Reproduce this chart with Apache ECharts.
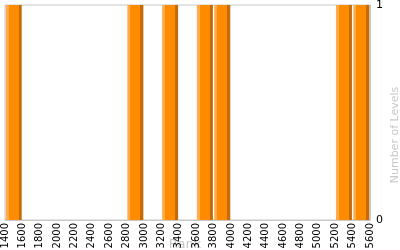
<!DOCTYPE html>
<html>
<head>
<meta charset="utf-8">
<script src="https://cdn.jsdelivr.net/npm/echarts@6/dist/echarts.min.js"></script>
<style>html,body{margin:0;padding:0;background:#fff}#c{width:400px;height:250px}</style>
</head>
<body>
<div id="c"></div>
<script>
var ranks = [1500, 2900, 3300, 3700, 3900, 5300, 5500];
var levels = [1, 1, 1, 1, 1, 1, 1];
var xTicks = {min: 1400, max: 5600, step: 200};
var yTicks = {min: 0, max: 1, step: 1};

var chart = echarts.init(document.getElementById('c'), null, {renderer: 'canvas'});
var font = 'DejaVu Sans, Verdana, sans-serif';
var barColor = new echarts.graphic.LinearGradient(0, 0, 1, 0, [
  {offset: 0, color: '#ffab4a'}, {offset: 0.19, color: '#ffab4a'},
  {offset: 0.19, color: '#ff8c00'}, {offset: 0.81, color: '#ff8c00'},
  {offset: 0.81, color: '#c46a06'}, {offset: 1, color: '#c46a06'}
]);
chart.setOption({
  animation: false,
  grid: {left: 5, right: 30, top: 5, bottom: 30, containLabel: false, outerBoundsMode: 'none',
    show: true, borderColor: '#c8c8c8', borderWidth: 1, backgroundColor: 'transparent'},
  xAxis: {
    type: 'value', min: xTicks.min, max: xTicks.max, interval: xTicks.step,
    axisLine: {show: true, lineStyle: {color: '#c8c8c8'}},
    axisTick: {show: false},
    splitLine: {show: false},
    axisLabel: {rotate: 90, margin: 3, color: '#000', fontSize: 10, fontFamily: font,
      formatter: function (v) { return String(v); }}
  },
  yAxis: {
    type: 'value', position: 'right', min: yTicks.min, max: yTicks.max, interval: yTicks.step,
    axisLine: {show: true, lineStyle: {color: '#c8c8c8'}},
    axisTick: {show: false},
    splitLine: {show: false},
    axisLabel: {margin: 6, color: '#000', fontSize: 11, fontFamily: font}
  },
  graphic: [{
    type: 'text', x: 395, y: 135, rotation: Math.PI / 2, z: -10,
    style: {text: 'Number of Levels', fill: '#c8c8c8', font: '11px ' + font, align: 'center', verticalAlign: 'middle'}
  }, {
    type: 'text', x: 185, y: 245, z: -10,
    style: {text: 'Rank', fill: '#c8c8c8', font: '13px ' + font, align: 'center', verticalAlign: 'middle'}
  }],
  series: [{
    type: 'bar', barWidth: 16,
    data: ranks.map(function (r, i) { return [r, levels[i]]; }),
    itemStyle: {color: barColor}
  }]
});
</script>
</body>
</html>
